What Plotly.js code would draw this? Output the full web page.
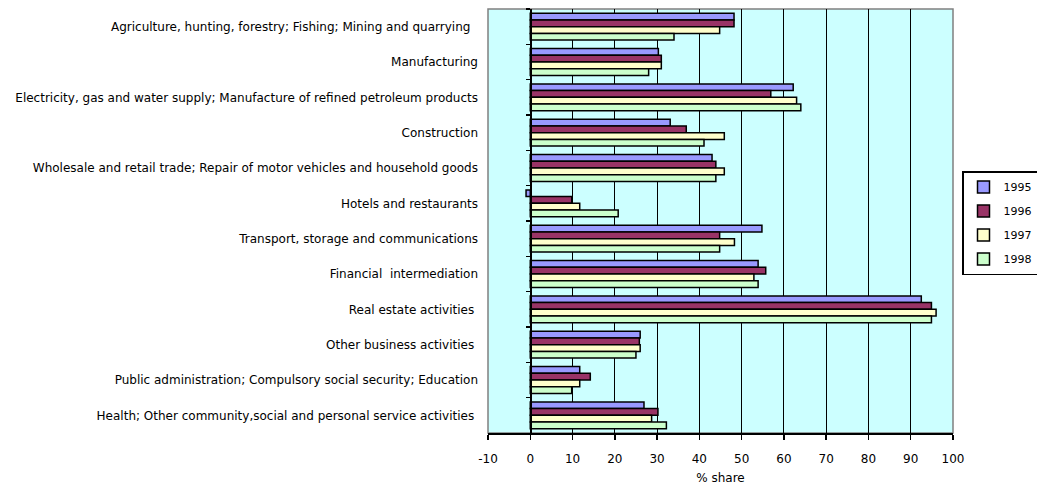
<!DOCTYPE html>
<html>
<head>
<meta charset="utf-8">
<script src="https://cdn.plot.ly/plotly-3.0.1.min.js"></script>
<style>html,body{margin:0;padding:0;background:#fff;overflow:hidden;}#chart{width:1037px;height:485px;}</style>
</head>
<body>
<div id="chart"></div>
<script>
var categories = [
  "Agriculture, hunting, forestry; Fishing; Mining and quarrying\u00a0\u00a0",
  "Manufacturing",
  "Electricity, gas and water supply; Manufacture of refined petroleum products",
  "Construction",
  "Wholesale and retail trade; Repair of motor vehicles and household goods",
  "Hotels and restaurants",
  "Transport, storage and communications",
  "Financial\u00a0 intermediation",
  "Real estate activities\u00a0",
  "Other business activities\u00a0",
  "Public administration; Compulsory social security; Education",
  "Health; Other community,social and personal service activities\u00a0"
];
var years = ["1995", "1996", "1997", "1998"];
var values1995 = [48.2, 30.3, 62.2, 33.1, 43.0, -1.0, 54.8, 53.9, 92.5, 26.0, 11.7, 26.9];
var values1996 = [48.2, 31.0, 56.9, 36.9, 43.9, 9.8, 44.8, 55.7, 94.9, 25.8, 14.2, 30.2];
var values1997 = [44.8, 31.0, 63.0, 45.9, 45.9, 11.7, 48.3, 52.9, 96.0, 26.0, 11.7, 28.7];
var values1998 = [34.0, 28.0, 64.0, 41.1, 43.9, 20.8, 44.8, 53.9, 94.9, 25.0, 9.8, 32.2];
var xTicks = [-10, 0, 10, 20, 30, 40, 50, 60, 70, 80, 90, 100];

var series = [values1995, values1996, values1997, values1998];
var colors = ["#9999FF", "#993366", "#FFFFCC", "#CCFFCC"];

var traces = series.map(function (vals, i) {
  return {
    type: "bar",
    orientation: "h",
    name: years[i],
    legendgroup: years[i],
    x: vals,
    y: categories,
    marker: { color: colors[i], line: { color: "#000000", width: 1.5 } },
    hoverinfo: "x+name"
  };
});
// invisible helper trace to draw the category axis line at x = 0
traces.push({
  type: "bar", orientation: "h", x: categories.map(function () { return 0; }),
  y: categories, yaxis: "y2", showlegend: false, hoverinfo: "skip",
  marker: { color: "rgba(0,0,0,0)", line: { width: 0 } }
});

var font = { family: "DejaVu Sans, Verdana, sans-serif", size: 12, color: "#000000" };

var layout = {
  width: 1037, height: 485,
  margin: { l: 488, r: 84, t: 9, b: 52, pad: 0, autoexpand: false },
  paper_bgcolor: "#ffffff",
  plot_bgcolor: "#CCFFFF",
  font: font,
  barmode: "group",
  bargap: 0.24,
  bargroupgap: 0,
  showlegend: true,
  legend: {
    xref: "container", yref: "container",
    x: 962 / 1037, xanchor: "left", y: 1 - 171 / 485, yanchor: "top",
    bordercolor: "#000000", borderwidth: 1.5, bgcolor: "#ffffff",
    font: { family: "DejaVu Sans, Verdana, sans-serif", size: 11, color: "#000000" },
    traceorder: "grouped", itemwidth: 30, tracegroupgap: 5
  },
  xaxis: {
    range: [-10, 100],
    tickvals: xTicks,
    ticktext: xTicks.map(String),
    showgrid: true, gridcolor: "#000000", gridwidth: 1,
    zeroline: false,
    showline: true, linecolor: "#000000", linewidth: 1.5,
    ticks: "outside", ticklen: 5, tickcolor: "#000000", tickwidth: 1.5,
    ticklabelstandoff: 9,
    tickfont: font,
    title: { text: "% share", font: font, standoff: 8 },
    fixedrange: true
  },
  yaxis: {
    type: "category",
    categoryorder: "array", categoryarray: categories,
    autorange: "reversed",
    showgrid: false, zeroline: false, showline: false,
    ticks: "", ticklabelstandoff: 9,
    tickfont: font,
    fixedrange: true
  },
  yaxis2: {
    type: "category",
    categoryorder: "array", categoryarray: categories,
    autorange: "reversed",
    overlaying: "y", anchor: "free", position: 10 / 110, side: "left",
    showgrid: false, zeroline: false,
    showline: true, linecolor: "#000000", linewidth: 1.5,
    ticks: "outside", tickson: "boundaries", ticklen: 4, tickcolor: "#000000", tickwidth: 1.5,
    showticklabels: false,
    fixedrange: true
  },
  shapes: [{
    type: "rect", xref: "paper", yref: "paper", x0: 0, x1: 1, y0: 0, y1: 1,
    line: { color: "#808080", width: 1.5 }, layer: "below"
  }]
};

Plotly.newPlot("chart", traces, layout, { displayModeBar: false, staticPlot: true });
</script>
</body>
</html>
